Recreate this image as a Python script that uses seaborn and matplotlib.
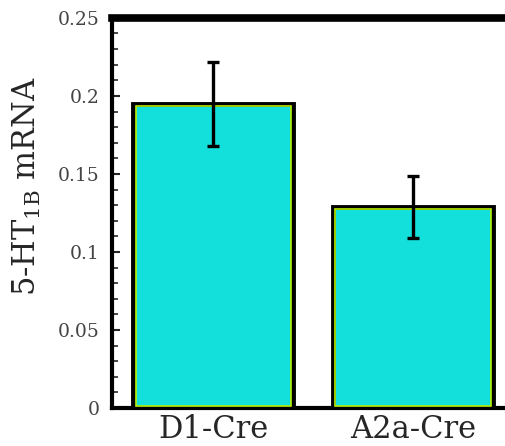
import matplotlib
matplotlib.use("Agg")
import matplotlib.pyplot as plt
import seaborn as sns
import pandas as pd
from matplotlib.patches import Rectangle
from matplotlib.ticker import MultipleLocator

groups = ["D1-Cre", "A2a-Cre"]
means = [0.195, 0.129]
errs = [0.027, 0.020]

df = pd.DataFrame({"group": groups, "mrna": means})

sns.set_style("white")
plt.rcParams["font.family"] = ["DejaVu Serif"]
plt.rcParams["mathtext.fontset"] = "dejavuserif"

fig = plt.figure(figsize=(5.05, 4.46), dpi=100)
ax = fig.add_axes([0.222, 0.085, 0.778, 0.875])

sns.barplot(data=df, x="group", y="mrna", color="#13e0da", width=0.8,
            edgecolor="black", linewidth=3.5, saturation=1, errorbar=None, ax=ax)

# thin yellow-green line just inside the black border
for p in list(ax.patches):
    x0, y0 = p.get_x(), p.get_y()
    w, h = p.get_width(), p.get_height()
    ax.add_patch(Rectangle((x0 + 0.012, y0 + 0.0015), w - 0.024, h - 0.003,
                           fill=False, edgecolor="#b8f000", linewidth=1.2, zorder=3))

xs = [p.get_x() + p.get_width() / 2 for p in ax.patches[:2]]
ax.errorbar(xs, means, yerr=errs, fmt="none", ecolor="black", elinewidth=2.4,
            capsize=4, capthick=2.4, zorder=4)

ax.set_xlim(-0.505, 1.46)
ax.set_ylim(0, 0.25)
ax.yaxis.set_minor_locator(MultipleLocator(0.01))
ax.set_yticks([0, 0.05, 0.1, 0.15, 0.2, 0.25])
ax.set_yticklabels(["0", "0.05", "0.1", "0.15", "0.2", "0.25"])
ax.tick_params(axis="y", which="major", direction="in", length=6, width=1.5,
               left=True, labelsize=13.5, labelcolor="#444444", pad=9)
ax.tick_params(axis="y", which="minor", direction="in", length=4, width=1.2, left=True)
ax.tick_params(axis="x", length=0, labelsize=22, pad=4)

ax.set_xlabel("")
ax.set_ylabel("5-HT$_{\\mathregular{1B}}$ mRNA", fontsize=22)
ax.yaxis.set_label_coords(-0.175, 0.57)

ax.spines["right"].set_visible(False)
ax.spines["left"].set_linewidth(3)
ax.spines["bottom"].set_linewidth(3)
ax.spines["top"].set_linewidth(5.5)
for s in ["left", "bottom", "top"]:
    ax.spines[s].set_color("black")

fig.savefig("out.png", dpi=100)
